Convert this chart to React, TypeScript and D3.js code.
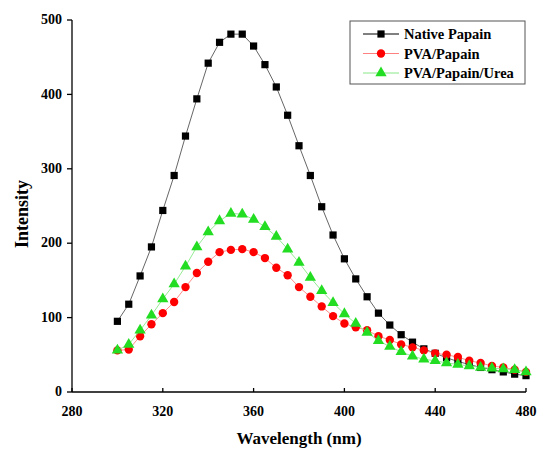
import React from "react";
import * as d3 from "d3";

const wavelengths = d3.range(300, 481, 5);
const nativePapain = [95, 118, 156, 195, 244, 291, 344, 394, 442, 470, 481, 481, 465, 440, 410, 372, 331, 291, 249, 211, 179, 152, 128, 106, 90, 77, 67, 58, 52, 46, 41, 37, 33, 30, 27, 24, 22];
const pvaPapain = [56, 57, 75, 91, 106, 121, 141, 160, 175, 188, 191, 192, 188, 180, 167, 157, 141, 128, 115, 102, 92, 87, 83, 75, 70, 64, 60, 56, 52, 50, 47, 42, 39, 35, 33, 30, 27];
const pvaPapainUrea = [56, 64, 83, 103, 125, 145, 169, 195, 215, 230, 240, 239, 232, 222, 209, 192, 174, 154, 136, 120, 105, 92, 80, 69, 61, 54, 48, 44, 42, 39, 37, 35, 33, 32, 31, 30, 27];
const xTicks = [280, 320, 360, 400, 440, 480];
const yTicks = [0, 100, 200, 300, 400, 500];
const seriesNames = ["Native Papain", "PVA/Papain", "PVA/Papain/Urea"];

const W = 537, H = 449;
const M = { left: 72, right: 526, top: 20, bottom: 392 };
const FONT = "Liberation Serif, DejaVu Serif, serif";

export default function App() {
  const x = d3.scaleLinear().domain([280, 480]).range([M.left, M.right]);
  const y = d3.scaleLinear().domain([0, 500]).range([M.bottom, M.top]);
  const series = [
    { name: seriesNames[0], values: nativePapain, marker: "square", fill: "#000000", line: "#555555" },
    { name: seriesNames[1], values: pvaPapain, marker: "circle", fill: "#ff0000", line: "#ff8080" },
    { name: seriesNames[2], values: pvaPapainUrea, marker: "triangle", fill: "#22dd22", line: "#88e888" },
  ];
  const lineGen = (vals: number[]) =>
    d3.line<number>().x((_, i) => x(wavelengths[i])).y((d) => y(d))(vals) || "";
  const sq = d3.symbol(d3.symbolSquare, 52)() || "";
  const ci = d3.symbol(d3.symbolCircle, 55)() || "";
  const tr = d3.symbol(d3.symbolTriangle, 55)() || "";
  const markerPath = (m: string) => (m === "square" ? sq : m === "circle" ? ci : tr);
  const ts = { fontFamily: FONT, fontWeight: "bold" as const };

  return (
    <svg width={W} height={H} style={{ position: "absolute", left: 0, top: 0, background: "#fff" }}>
      <rect width={W} height={H} fill="#fff" />
      {series.map((s) => (
        <g key={s.name}>
          <path d={lineGen(s.values)} fill="none" stroke={s.line} strokeWidth={0.9} />
          {s.values.map((v, i) => (
            <path key={i} d={markerPath(s.marker)} transform={`translate(${x(wavelengths[i])},${y(v)})`} fill={s.fill} />
          ))}
        </g>
      ))}
      <line x1={M.left} x2={M.right} y1={M.bottom} y2={M.bottom} stroke="#000" strokeWidth={1.3} />
      <line x1={M.left} x2={M.left} y1={M.top} y2={M.bottom} stroke="#000" strokeWidth={1.3} />
      {yTicks.map((t) => (
        <g key={t}>
          <line x1={M.left - 5} x2={M.left} y1={y(t)} y2={y(t)} stroke="#000" strokeWidth={1.3} />
          <text x={M.left - 10} y={y(t)} dy="0.3em" textAnchor="end" fontSize={14} style={ts}>{t}</text>
        </g>
      ))}
      {xTicks.map((t) => (
        <g key={t}>
          <line x1={x(t)} x2={x(t)} y1={M.bottom} y2={M.bottom - 4} stroke="#000" strokeWidth={1.3} />
          <text x={x(t)} y={M.bottom + 19} dy="0.35em" textAnchor="middle" fontSize={14} style={ts}>{t}</text>
        </g>
      ))}
      <text x={(M.left + M.right) / 2} y={444} textAnchor="middle" fontSize={17} style={ts}>Wavelength (nm)</text>
      <text transform={`translate(22,214) rotate(-90)`} dy="0.35em" textAnchor="middle" fontSize={18} style={ts}>Intensity</text>
      <rect x={350} y={21} width={175} height={63} fill="#fff" stroke="#555" strokeWidth={1} />
      {series.map((s, i) => {
        const ly = 34 + i * 19.5;
        return (
          <g key={s.name}>
            <line x1={363} x2={399} y1={ly} y2={ly} stroke={s.marker === "square" ? "#000" : s.line} strokeWidth={1} />
            <path d={markerPath(s.marker)} transform={`translate(381,${ly})`} fill={s.fill} />
            <text x={404} y={ly} dy="0.35em" fontSize={14.5} style={ts}>{s.name}</text>
          </g>
        );
      })}
    </svg>
  );
}
